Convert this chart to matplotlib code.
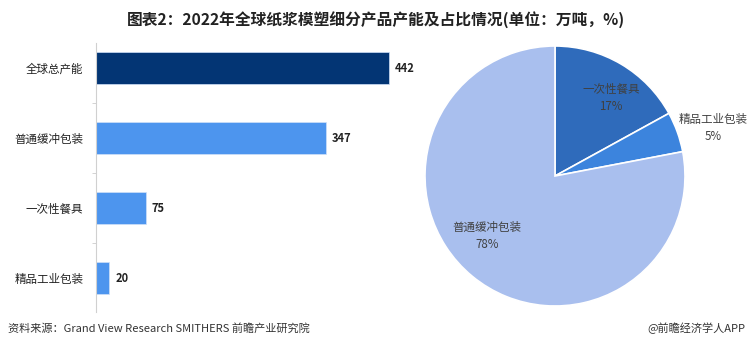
import numpy as np
import matplotlib
matplotlib.use('Agg')
import matplotlib.pyplot as plt

plt.rcParams['font.family'] = ['Noto Sans CJK SC', 'DejaVu Sans']

# bar data
bar_cats = ['全球总产能', '普通缓冲包装', '一次性餐具', '精品工业包装']
bar_vals = [442, 347, 75, 20]
bar_colors = ['#033574', '#4d95ee', '#4d95ee', '#4d95ee']

# pie data (clockwise from top)
pie_cats = ['一次性餐具', '精品工业包装', '普通缓冲包装']
pie_vals = [17, 5, 78]
pie_colors = ['#2f6bbb', '#3c84dd', '#a9bfee']
# label placement: radial distance and angle shift (deg)
pie_dist = [0.74, 1.27, 0.70]
pie_shift = [-5, -3, -9]

W, H = 751, 352
fig = plt.figure(figsize=(W / 100, H / 100), dpi=100)

fig.text(0.5, 1 - 20 / H, '图表2：2022年全球纸浆模塑细分产品产能及占比情况(单位：万吨，%)',
         ha='center', va='center', fontsize=11.3, fontweight='bold', color='#222222')

# === bar chart ===
ax = fig.add_axes([96 / W, 1 - 312 / H, (420 - 96) / W, (312 - 43) / H])
y = np.arange(len(bar_cats))
ax.barh(y, bar_vals, height=0.47, color=bar_colors, edgecolor='#d0e0f8', linewidth=0.5)
ax.set_xlim(0, (420 - 96) / (293 / 442))
ax.set_ylim((312 - 68) / 70, (43 - 68) / 70)
for yi, v in zip(y, bar_vals):
    ax.text(v + 9, yi, str(v), va='center', ha='left', fontsize=8, fontweight='bold', color='#222222')
ax.set_yticks(y)
ax.set_yticklabels(bar_cats, fontsize=8.3, color='#222222')
ax.tick_params(axis='y', which='major', length=0, pad=9)
ax.set_yticks(y[:-1] + 0.5, minor=True)
ax.tick_params(axis='y', which='minor', length=3, color='#cccccc')
ax.set_xticks([])
for s in ['top', 'right', 'bottom']:
    ax.spines[s].set_visible(False)
ax.spines['left'].set_color('#d0d0d0')
ax.spines['left'].set_linewidth(0.8)

# === pie chart ===
r = 130
pax = fig.add_axes([(555 - r) / W, 1 - (176 + r) / H, 2 * r / W, 2 * r / H])
wedges, _ = pax.pie(pie_vals, colors=pie_colors, startangle=90, counterclock=False,
                    wedgeprops=dict(edgecolor='white', linewidth=1.2))
for w, name, val, d, sh in zip(wedges, pie_cats, pie_vals, pie_dist, pie_shift):
    a = np.deg2rad((w.theta1 + w.theta2) / 2 + sh)
    pax.text(d * np.cos(a), d * np.sin(a), f'{name}\n{val}%', ha='center', va='center',
             fontsize=8.3, color='#404040', linespacing=1.4)
pax.set_xlim(-1, 1)
pax.set_ylim(-1, 1)
pax.set_aspect('equal')
pax.axis('off')

fig.text(8 / W, 1 - 328 / H, '资料来源：Grand View Research SMITHERS 前瞻产业研究院',
         ha='left', va='center', fontsize=8, color='#333333')
fig.text(745 / W, 1 - 328 / H, '@前瞻经济学人APP',
         ha='right', va='center', fontsize=8, color='#333333')

fig.savefig('out.png', dpi=100, facecolor='white')
